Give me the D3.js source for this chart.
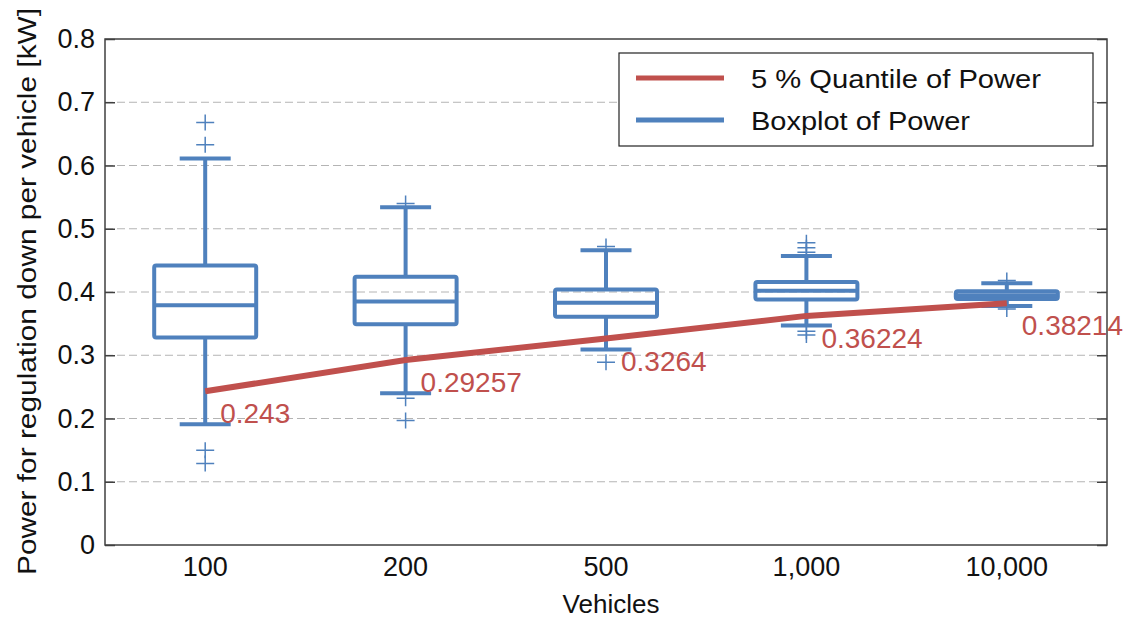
<!DOCTYPE html>
<html><head><meta charset="utf-8">
<script src="https://cdn.jsdelivr.net/npm/d3@7"></script>
<style>body{margin:0;background:#fff}svg{display:block}text{font-family:Arial,"Liberation Sans",sans-serif}</style>
</head><body><svg id="c" width="1130" height="621"></svg>
<script>
const categories = ["100", "200", "500", "1,000", "10,000"];
const whiskerLow = [0.191, 0.240, 0.309, 0.347, 0.378];
const q1 = [0.328, 0.349, 0.361, 0.388, 0.389];
const median = [0.379, 0.385, 0.383, 0.402, 0.395];
const q3 = [0.442, 0.424, 0.404, 0.416, 0.401];
const whiskerHigh = [0.611, 0.534, 0.466, 0.457, 0.414];
const outliers = [[0.668, 0.633, 0.150, 0.129], [0.540, 0.232, 0.197], [0.472, 0.289], [0.478, 0.470, 0.463, 0.338, 0.332], [0.418, 0.373]];
const quantile5 = [0.243, 0.29257, 0.3264, 0.36224, 0.38214];
const yTicks = [0, 0.1, 0.2, 0.3, 0.4, 0.5, 0.6, 0.7, 0.8];
const legendLabels = ["5 % Quantile of Power", "Boxplot of Power"];

const red = "#c0504d", blue = "#4f81bd";
const svg = d3.select("#c");
const L = 105, R = 1107, T = 39, B = 545;
const x = d3.scaleBand().domain(categories).range([L, R]).padding(0);
const y = d3.scaleLinear().domain([0, 0.8]).range([B, T]);
const cx = c => x(c) + x.bandwidth() / 2;
const boxW = 102;

// grid
svg.append("g").selectAll("line").data(yTicks.filter(t => t > 0 && t < 0.8)).join("line")
  .attr("x1", L).attr("x2", R).attr("y1", d => y(d)).attr("y2", d => y(d))
  .attr("stroke", "#b4b4b4").attr("stroke-width", 1).attr("stroke-dasharray", "8,4");

// y axis labels and ticks
const yAxis = svg.append("g").attr("transform", `translate(${L},0)`)
  .call(d3.axisLeft(y).tickValues(yTicks).tickFormat(d => d === 0 ? "0" : d3.format(".1f")(d)).tickSize(-10).tickPadding(10));
yAxis.select(".domain").remove();
yAxis.selectAll("line").attr("stroke", "#404040").attr("stroke-width", 1.5);
yAxis.selectAll("text").attr("font-size", 27).attr("fill", "#111");
const yAxisR = svg.append("g").attr("transform", `translate(${R},0)`)
  .call(d3.axisRight(y).tickValues(yTicks).tickSize(-10).tickFormat(""));
yAxisR.select(".domain").remove();
yAxisR.selectAll("line").attr("stroke", "#404040").attr("stroke-width", 1.5);

// x axis labels
const xAxis = svg.append("g").attr("transform", `translate(0,${B})`)
  .call(d3.axisBottom(x).tickSize(0).tickPadding(12));
xAxis.select(".domain").remove();
xAxis.selectAll("text").attr("font-size", 27).attr("fill", "#111");

// boxplots
const g = svg.append("g").attr("stroke", blue).attr("fill", "none").attr("stroke-width", 4);
categories.forEach((c, i) => {
  const X = cx(c);
  g.append("line").attr("x1", X).attr("x2", X).attr("y1", y(whiskerHigh[i])).attr("y2", y(q3[i]));
  g.append("line").attr("x1", X).attr("x2", X).attr("y1", y(q1[i])).attr("y2", y(whiskerLow[i]));
  g.append("line").attr("x1", X - boxW / 4).attr("x2", X + boxW / 4).attr("y1", y(whiskerHigh[i])).attr("y2", y(whiskerHigh[i]));
  g.append("line").attr("x1", X - boxW / 4).attr("x2", X + boxW / 4).attr("y1", y(whiskerLow[i])).attr("y2", y(whiskerLow[i]));
  g.append("rect").attr("x", X - boxW / 2).attr("width", boxW).attr("y", y(q3[i])).attr("height", y(q1[i]) - y(q3[i])).attr("rx", 2);
  g.append("line").attr("x1", X - boxW / 2).attr("x2", X + boxW / 2).attr("y1", y(median[i])).attr("y2", y(median[i]));
  outliers[i].forEach(o => {
    g.append("path").attr("d", `M${X - 9},${y(o)}H${X + 9}M${X},${y(o) - 8}V${y(o) + 8}`).attr("stroke-width", 1.5);
  });
});

// quantile line
const line = d3.line().x((d, i) => cx(categories[i])).y(d => y(d));
svg.append("path").datum(quantile5).attr("d", line).attr("fill", "none").attr("stroke", red).attr("stroke-width", 6);
svg.append("g").selectAll("text").data(quantile5).join("text")
  .attr("x", (d, i) => cx(categories[i]) + 15).attr("y", d => y(d) + 32)
  .attr("font-size", 28).attr("fill", red).text(d => String(d));

// frame
svg.append("rect").attr("x", L).attr("y", T).attr("width", R - L).attr("height", B - T)
  .attr("fill", "none").attr("stroke", "#404040").attr("stroke-width", 1.5);

// legend
const legendWidths = [290, 219];
const lg = svg.append("g");
lg.append("rect").attr("x", 619).attr("y", 53).attr("width", 474).attr("height", 93).attr("fill", "#fff").attr("stroke", "#222").attr("stroke-width", 1.2);
[red, blue].forEach((col, i) => {
  const yy = 78 + i * 42;
  lg.append("line").attr("x1", 636).attr("x2", 724).attr("y1", yy).attr("y2", yy).attr("stroke", col).attr("stroke-width", 5);
  lg.append("text").attr("x", 751).attr("y", yy + 10).attr("font-size", 25).attr("fill", "#111")
    .attr("textLength", legendWidths[i]).attr("lengthAdjust", "spacingAndGlyphs").text(legendLabels[i]);
});

// axis titles
svg.append("text").attr("x", 611).attr("y", 613).attr("text-anchor", "middle").attr("font-size", 26).attr("fill", "#111").text("Vehicles");
svg.append("text").attr("transform", "translate(36,575) rotate(-90)").attr("font-size", 25).attr("fill", "#111")
  .attr("textLength", 567).attr("lengthAdjust", "spacingAndGlyphs").text("Power for regulation down per vehicle [kW]");
</script></body></html>
